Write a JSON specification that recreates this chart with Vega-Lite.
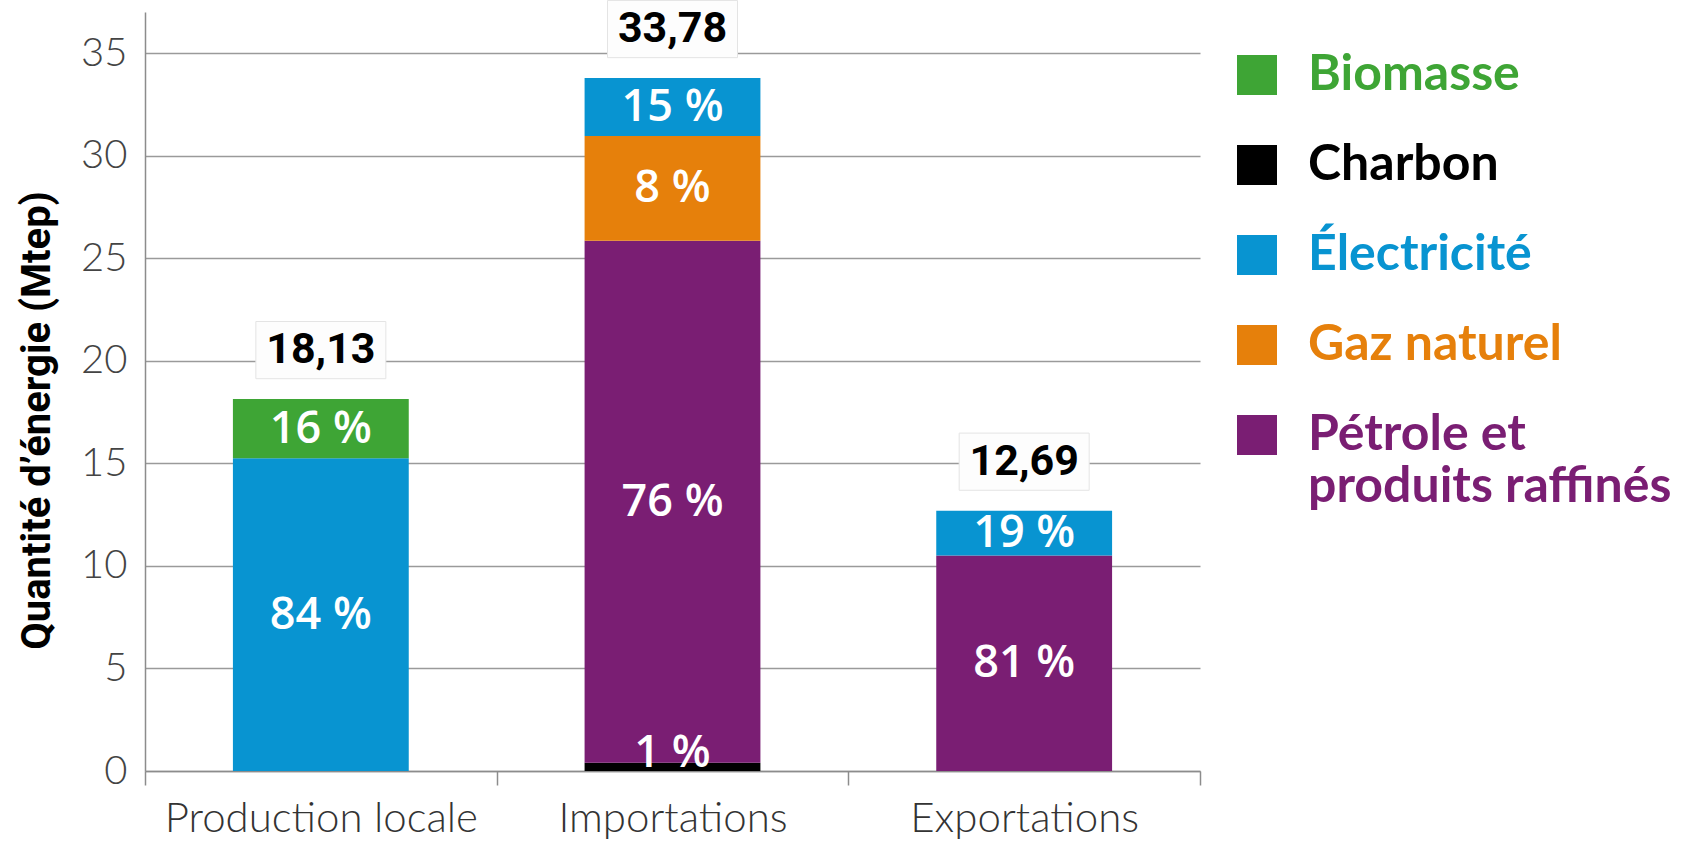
{
  "$schema": "https://vega.github.io/schema/vega-lite/v6.json",
  "width": 1055,
  "height": 759,
  "autosize": {"type": "none"},
  "padding": {"left": 145, "top": 12, "right": 492, "bottom": 70},
  "background": "white",
  "config": {"view": {"stroke": null}, "font": "Lato"},
  "datasets": {
    "segments": [
      {"flux": "Production locale", "source": "Électricité", "rang": 3, "valeur": 15.25, "pct": "84 %"},
      {"flux": "Production locale", "source": "Biomasse", "rang": 4, "valeur": 2.88, "pct": "16 %"},
      {"flux": "Importations", "source": "Charbon", "rang": 0, "valeur": 0.4, "pct": "1 %"},
      {"flux": "Importations", "source": "Pétrole et produits raffinés", "rang": 1, "valeur": 25.45, "pct": "76 %"},
      {"flux": "Importations", "source": "Gaz naturel", "rang": 2, "valeur": 5.1, "pct": "8 %"},
      {"flux": "Importations", "source": "Électricité", "rang": 3, "valeur": 2.83, "pct": "15 %"},
      {"flux": "Exportations", "source": "Pétrole et produits raffinés", "rang": 1, "valeur": 10.5, "pct": "81 %"},
      {"flux": "Exportations", "source": "Électricité", "rang": 3, "valeur": 2.19, "pct": "19 %"}
    ],
    "totaux": [
      {"flux": "Production locale", "total": 18.13, "libelle": "18,13"},
      {"flux": "Importations", "total": 33.78, "libelle": "33,78"},
      {"flux": "Exportations", "total": 12.69, "libelle": "12,69"}
    ]
  },
  "encoding": {
    "x": {
      "field": "flux",
      "type": "nominal",
      "sort": ["Production locale", "Importations", "Exportations"],
      "scale": {"paddingInner": 0, "paddingOuter": 0},
      "axis": {
        "title": null,
        "labelAngle": 0,
        "labelFont": "Lato",
        "labelFontWeight": 300,
        "labelFontSize": 42,
        "labelLimit": 600,
        "labelColor": "#333333",
        "labelPadding": 13,
        "tickBand": "extent",
        "tickSize": 14,
        "tickColor": "#8c8c8c",
        "tickWidth": 1.5,
        "domainColor": "#8c8c8c",
        "domainWidth": 1.5,
        "grid": false
      }
    }
  },
  "layer": [
    {
      "data": {"name": "segments"},
      "mark": {"type": "bar", "width": {"band": 0.5}},
      "encoding": {
        "y": {
          "field": "valeur",
          "type": "quantitative",
          "stack": "zero",
          "scale": {"domain": [0, 37], "nice": false},
          "axis": {
            "title": "Quantité d’énergie (Mtep)",
            "values": [0, 5, 10, 15, 20, 25, 30, 35],
            "grid": true,
            "gridColor": "#9a9a9a",
            "gridWidth": 1.5,
            "ticks": false,
            "tickSize": 0,
            "labelPadding": 18,
            "labelFont": "Lato",
            "labelFontWeight": 300,
            "labelFontSize": 40,
            "labelColor": "#444444",
            "domainColor": "#8c8c8c",
            "domainWidth": 1.5,
            "titleFont": "Roboto",
            "titleFontSize": 40,
            "titleFontWeight": "bold",
            "titleColor": "#000000",
            "titleAngle": -90,
            "titleX": -108,
            "titleY": 408,
            "titleAlign": "center",
            "titleBaseline": "middle"
          }
        },
        "color": {
          "field": "source",
          "type": "nominal",
          "scale": {
            "domain": ["Biomasse", "Charbon", "Électricité", "Gaz naturel", "Pétrole et produits raffinés"],
            "range": ["#3ea535", "#000000", "#0894d1", "#e6800b", "#7a1e73"]
          },
          "legend": {
            "orient": "none",
            "legendX": 1087,
            "legendY": 38,
            "title": null,
            "padding": 0,
            "symbolType": "square",
            "symbolSize": 1600,
            "symbolStrokeWidth": 0,
            "labelFont": "Lato",
            "labelFontWeight": "bold",
            "labelFontSize": 50,
            "labelColor": {"expr": "scale('color', datum.value)"},
            "labelOffset": 26,
            "labelLimit": 600,
            "rowPadding": 40,
            "labelExpr": "datum.label == 'Pétrole et produits raffinés' ? ['Pétrole et', 'produits raffinés'] : datum.label"
          }
        },
        "order": {"field": "rang", "type": "quantitative", "sort": "ascending"}
      }
    },
    {
      "data": {"name": "segments"},
      "mark": {"type": "text", "font": "Open Sans", "fontWeight": 600, "fontSize": 45, "color": "#ffffff", "baseline": "middle"},
      "encoding": {
        "y": {"field": "valeur", "type": "quantitative", "stack": "zero", "bandPosition": 0.5, "scale": {"domain": [0, 37], "nice": false}},
        "detail": {"field": "source"},
        "order": {"field": "rang", "type": "quantitative", "sort": "ascending"},
        "text": {"condition": {"test": "datum.source === 'Charbon'", "value": ""}, "field": "pct"}
      }
    },
    {
      "data": {"name": "segments"},
      "transform": [{"filter": "datum.source === 'Charbon'"}],
      "mark": {"type": "text", "font": "Open Sans", "fontWeight": 600, "fontSize": 45, "color": "#ffffff", "baseline": "middle", "dy": -14},
      "encoding": {
        "y": {"field": "valeur", "type": "quantitative", "stack": "zero", "bandPosition": 0.5, "scale": {"domain": [0, 37], "nice": false}},
        "text": {"field": "pct"}
      }
    },
    {
      "data": {"name": "totaux"},
      "mark": {"type": "point", "shape": "M-1,-0.44L1,-0.44L1,0.44L-1,0.44Z", "size": 16900, "filled": true, "fill": "#fdfdfd", "stroke": "#e4e4e4", "strokeWidth": 1, "opacity": 1, "yOffset": -49},
      "encoding": {
        "y": {"field": "total", "type": "quantitative", "scale": {"domain": [0, 37], "nice": false}}
      }
    },
    {
      "data": {"name": "totaux"},
      "mark": {"type": "text", "font": "Roboto", "fontWeight": "bold", "fontSize": 43, "color": "#000000", "baseline": "middle", "yOffset": -49},
      "encoding": {
        "y": {"field": "total", "type": "quantitative", "scale": {"domain": [0, 37], "nice": false}},
        "text": {"field": "libelle"}
      }
    }
  ]
}
